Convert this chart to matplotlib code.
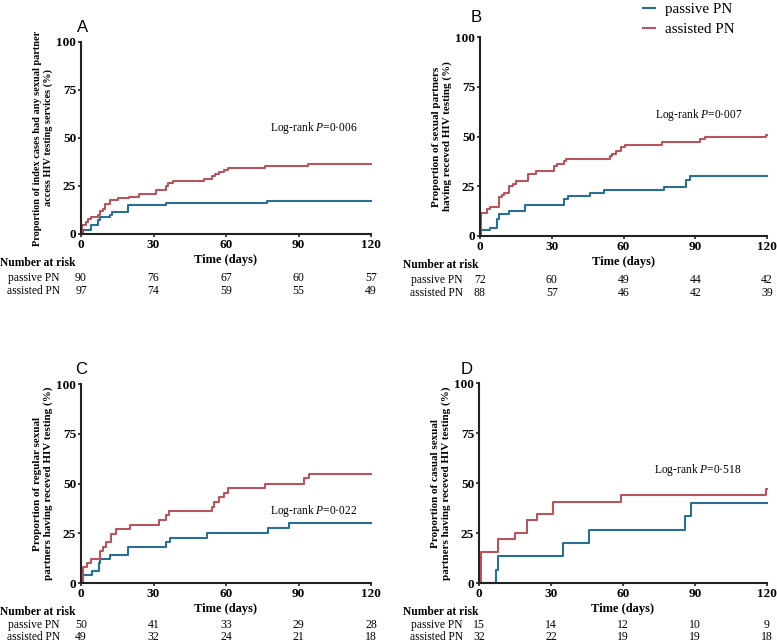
import matplotlib.pyplot as plt
import numpy as np

# curvas de Kaplan-Meier (tempo em dias, proporcao em %)
a_pas_t = [0, 1, 4, 7, 8, 12, 13, 19.5, 35, 77, 120]
a_pas_y = [0, 2.3, 4.5, 7.1, 9, 10, 11.5, 15, 16.3, 17.4, 17.4]
a_ass_t = [0, 0.5, 2, 3, 4, 7, 8, 9, 10, 12, 15.5, 20, 24, 31, 35, 36, 38, 51, 54,
           55.5, 57, 59, 61, 76, 94, 120]
a_ass_y = [0, 4.5, 6, 8, 9, 10, 12, 13, 15.5, 17.5, 18.5, 19.5, 21, 23, 25, 26.5, 27.5,
           28.5, 30, 31.5, 32.5, 33.5, 34.5, 35.5, 36.7, 36.7]

b_pas_t = [0, 0.5, 4, 7, 8, 12, 19, 35, 37, 46, 52, 77, 86, 88, 120]
b_pas_y = [0, 2.8, 4.2, 8.4, 11, 12.5, 15.5, 18.5, 20, 21.5, 23, 24.5, 28, 30, 30]
b_ass_t = [0, 0.3, 3, 4, 8, 9, 10, 12, 14, 15, 20, 23.5, 31, 32, 35, 36, 54.5, 55,
           57, 59, 60.5, 76, 92, 94, 119.7, 120]
b_ass_y = [0, 11.5, 13.5, 14.8, 19.5, 20.5, 21.5, 25, 26.3, 27.5, 31, 32.5, 35, 36,
           37.5, 38.5, 40, 41, 42.5, 44.5, 45.8, 47, 48.5, 49.7, 51, 51]

c_pas_t = [0, 0.7, 4.4, 7.3, 8, 12, 19.3, 35, 37, 52.3, 77.2, 86, 120]
c_pas_y = [0, 4, 6, 10, 12, 14, 18, 20.5, 22.5, 25, 27.5, 30, 30]
c_ass_t = [0, 0.7, 2.6, 4, 8, 9.3, 10.2, 12.3, 14.4, 20.3, 32.3, 35.2, 36.5, 54.4,
           55.2, 57, 59, 61, 76, 92.4, 94.2, 120]
c_ass_y = [0, 8, 10, 12, 16, 18, 20.5, 24.5, 27, 29, 31.5, 34, 36, 38, 40.5, 43, 45,
           47.5, 50, 53, 55, 55]

d_pas_t = [0, 6.9, 7.9, 35.2, 46, 86, 88.2, 120]
d_pas_y = [0, 6.7, 13.3, 20, 26.7, 33.3, 40, 40]
d_ass_t = [0, 0.7, 7.9, 15, 20, 24, 30.7, 59, 119.7, 120]
d_ass_y = [0, 15.6, 21.9, 25, 31.3, 34.4, 40.6, 43.8, 46.9, 46.9]

# numero em risco nos tempos 0, 30, 60, 90, 120
risk_t = [0, 30, 60, 90, 120]
a_risk_pas = [90, 76, 67, 60, 57]
a_risk_ass = [97, 74, 59, 55, 49]
b_risk_pas = [72, 60, 49, 44, 42]
b_risk_ass = [88, 57, 46, 42, 39]
c_risk_pas = [50, 41, 33, 29, 28]
c_risk_ass = [49, 32, 24, 21, 18]
d_risk_pas = [15, 14, 12, 10, 9]
d_risk_ass = [32, 22, 19, 19, 18]

ylabels = ["Proportion of index cases had any sexual partner\naccess HIV testing services (%)",
           "Proportion of sexual partners\nhaving receved HIV testing (%)",
           "Proportion of regular sexual\npartners having receved HIV testing (%)",
           "Proportion of casual sexual\npartners having receved HIV testing (%)"]
pvals = ["0·006", "0·007", "0·022", "0·518"]

azul = "#2c6e91"
verm = "#b5555e"
serif = "Liberation Serif"
plt.rcParams['font.family'] = serif
plt.rcParams['mathtext.fontset'] = 'custom'
plt.rcParams['mathtext.it'] = 'Liberation Serif:italic'
plt.rcParams['mathtext.rm'] = 'Liberation Serif'

W, H = 777, 642
fig = plt.figure(figsize=(W / 100, H / 100), dpi=100)

# posicoes em pixels: esquerda, topo, direita, base
caixas = [(81, 42, 371, 234), (480, 37, 767, 236), (81, 384, 371, 583), (479, 383, 767, 583)]
letras = [("A", 83, 27), ("B", 476, 18), ("C", 81, 370), ("D", 467, 370)]
pvpos = [(78, 55), (73, 61), (78, 36), (73, 56.5)]
tabx = [(0, 60), (403, 463), (0, 60), (403, 463)]
ylab_fs = [7.4, 8, 8, 8]
# deslocamento vertical (px) das linhas da tabela abaixo do eixo
tab_dy = [(29, 44, 57), (29, 44, 57), (29, 42, 54), (29, 42, 54)]

curvas = [(a_pas_t, a_pas_y, a_ass_t, a_ass_y, a_risk_pas, a_risk_ass),
          (b_pas_t, b_pas_y, b_ass_t, b_ass_y, b_risk_pas, b_risk_ass),
          (c_pas_t, c_pas_y, c_ass_t, c_ass_y, c_risk_pas, c_risk_ass),
          (d_pas_t, d_pas_y, d_ass_t, d_ass_y, d_risk_pas, d_risk_ass)]

for i, (pt, py, at, ay, rp, ra) in enumerate(curvas):
    l, t, r, b = caixas[i]
    ax = fig.add_axes([l / W, 1 - b / H, (r - l) / W, (b - t) / H])
    ax.step(pt, py, where='post', color=azul, lw=1.5, label='passive PN', clip_on=False)
    ax.step(at, ay, where='post', color=verm, lw=1.5, label='assisted PN', clip_on=False)
    ax.set_xlim(0, 120)
    ax.set_ylim(0, 100)
    ax.set_xticks([0, 30, 60, 90, 120])
    ax.set_yticks([0, 25, 50, 75, 100])
    for s in ['top', 'right']:
        ax.spines[s].set_visible(False)
    for s in ['left', 'bottom']:
        ax.spines[s].set_linewidth(1.5)
        ax.spines[s].set_color('#222222')
    ax.tick_params(length=2.5, width=1.2, color='#222222', labelsize=9.5, pad=1)
    for lab in ax.get_xticklabels() + ax.get_yticklabels():
        lab.set_fontweight('bold')
    ax.set_ylabel(ylabels[i], fontsize=ylab_fs[i], fontweight='bold', labelpad=2,
                  linespacing=1.3)
    ax.set_xlabel("Time (days)", fontsize=9, fontweight='bold', labelpad=2)
    ax.text(pvpos[i][0], pvpos[i][1], "Log-rank $P$=" + pvals[i], fontsize=8.3,
            ha='left', va='center')

    # tabela de numero em risco
    x0, xr = tabx[i]
    d0, d1, d2 = tab_dy[i]
    fig.text(x0 / W, 1 - (b + d0) / H, "Number at risk", fontsize=8.3,
             fontweight='bold', ha='left', va='center')
    fig.text(xr / W, 1 - (b + d1) / H, "passive PN", fontsize=8.3, ha='right', va='center')
    fig.text(xr / W, 1 - (b + d2) / H, "assisted PN", fontsize=8.3, ha='right', va='center')
    for k in range(len(risk_t)):
        xp = (l + (r - l) * risk_t[k] / 120) / W
        fig.text(xp, 1 - (b + d1) / H, str(rp[k]), fontsize=8.5, ha='center', va='center')
        fig.text(xp, 1 - (b + d2) / H, str(ra[k]), fontsize=8.5, ha='center', va='center')

    letra, lx, ly = letras[i]
    fig.text(lx / W, 1 - ly / H, letra, fontsize=12, family='Liberation Sans',
             ha='center', va='center')

    if i == 1:
        handles, labels = ax.get_legend_handles_labels()

fig.legend(handles, labels, loc='upper left', bbox_to_anchor=(635 / W, 1 + 5 / H),
           frameon=False, fontsize=10.8, handlelength=0.8, handletextpad=0.7,
           labelspacing=0.45, borderpad=0)

plt.savefig('out.png', dpi=100)
